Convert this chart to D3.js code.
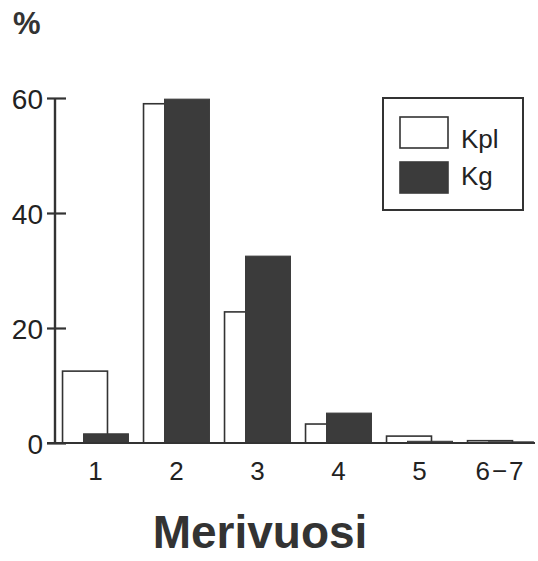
<!DOCTYPE html>
<html>
<head>
<meta charset="utf-8">
<script src="https://cdn.jsdelivr.net/npm/d3@7"></script>
<style>
  html, body { margin: 0; padding: 0; background: #fff; }
  svg { display: block; font-family: "Liberation Sans", Arial, sans-serif; }
</style>
</head>
<body>
<svg id="chart" width="538" height="561"></svg>
<script>
// Distribution by sea-year class (%)
const categories = ["1", "2", "3", "4", "5", "6\u22127"];
const seriesNames = ["Kpl", "Kg"];
const kplValues = [12.5, 59.0, 22.8, 3.3, 1.2, 0.4];
const kgValues  = [1.6, 59.8, 32.5, 5.2, 0.3, 0.2];
const yTicks = [0, 20, 40, 60];
const yLabel = "%";
const xTitle = "Merivuosi";

const ink = "#333";
const darkFill = "#3b3b3b";

const svg = d3.select("#chart");

const x = d3.scaleBand().domain(categories).range([55, 541]).padding(0);
const y = d3.scaleLinear().domain([0, 60]).range([443, 98]);

const barW = x.bandwidth() * 0.555;
const kplOffset = x.bandwidth() * 0.093;
const kgOffset = x.bandwidth() * 0.352;

// open bars (Kpl)
svg.append("g").selectAll("rect")
  .data(categories.map((c, i) => ({ c, v: kplValues[i] })))
  .join("rect")
  .attr("x", d => x(d.c) + kplOffset)
  .attr("y", d => y(d.v))
  .attr("width", barW)
  .attr("height", d => y(0) - y(d.v))
  .attr("fill", "#fff")
  .attr("stroke", ink)
  .attr("stroke-width", 1.6);

// filled bars (Kg), drawn over the open ones
svg.append("g").selectAll("rect")
  .data(categories.map((c, i) => ({ c, v: kgValues[i] })))
  .join("rect")
  .attr("x", d => x(d.c) + kgOffset)
  .attr("y", d => y(d.v))
  .attr("width", barW)
  .attr("height", d => y(0) - y(d.v))
  .attr("fill", darkFill)
  .attr("stroke", darkFill)
  .attr("stroke-width", 1);

// baseline
svg.append("line")
  .attr("x1", 47).attr("x2", 535)
  .attr("y1", y(0)).attr("y2", y(0))
  .attr("stroke", ink).attr("stroke-width", 2);

// y axis
const yAxis = svg.append("g")
  .attr("transform", "translate(55,0)")
  .call(d3.axisLeft(y).tickValues(yTicks).tickSizeOuter(0).tickSizeInner(8).tickPadding(4));
yAxis.select(".domain").attr("stroke", ink).attr("stroke-width", 2.4)
  .attr("d", `M0,${y(60)}V${y(0)}`);
yAxis.selectAll(".tick line")
  .attr("stroke", ink).attr("stroke-width", 2.2)
  .attr("x1", -8).attr("x2", 11);
yAxis.selectAll(".tick text")
  .attr("fill", "#222")
  .style("font-size", "28px")
  .attr("dy", "0.36em");

// x category labels
svg.append("g").selectAll("text")
  .data(categories)
  .join("text")
  .attr("x", d => x(d) + x.bandwidth() / 2)
  .attr("y", 480)
  .attr("text-anchor", "middle")
  .attr("fill", "#222")
  .style("font-size", "26px")
  .style("word-spacing", "0")
  .style("letter-spacing", d => d.length > 1 ? "2px" : "0")
  .text(d => d);

// unit label
svg.append("text")
  .attr("x", 13).attr("y", 34)
  .attr("fill", ink)
  .style("font-size", "31px").style("font-weight", "bold")
  .text(yLabel);

// axis title
svg.append("text")
  .attr("x", 260).attr("y", 548)
  .attr("text-anchor", "middle")
  .attr("fill", ink)
  .style("font-size", "46px").style("font-weight", "bold")
  .text(xTitle);

// legend
const legend = svg.append("g");
legend.append("rect")
  .attr("x", 383).attr("y", 98).attr("width", 140).attr("height", 112)
  .attr("fill", "#fff").attr("stroke", ink).attr("stroke-width", 2);
const swatchFill = [ "#fff", darkFill ];
seriesNames.forEach((name, i) => {
  legend.append("rect")
    .attr("x", 400).attr("y", 117 + i * 45).attr("width", 48).attr("height", 31)
    .attr("fill", swatchFill[i]).attr("stroke", i === 0 ? ink : darkFill).attr("stroke-width", 1.6);
  legend.append("text")
    .attr("x", 461).attr("y", 148 + i * 37)
    .attr("fill", "#222")
    .style("font-size", "26px")
    .text(name);
});
</script>
</body>
</html>
